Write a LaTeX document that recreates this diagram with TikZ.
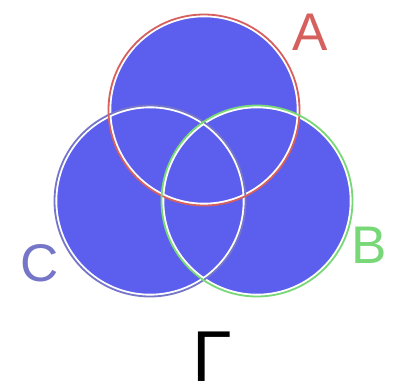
\documentclass[tikz,border=0pt]{standalone}
\usepackage{fontspec}
\setmainfont{Liberation Sans}
\definecolor{fillblue}{RGB}{92,94,238}
\definecolor{ared}{RGB}{214,96,94}
\definecolor{bgreen}{RGB}{120,216,120}
\definecolor{cpurple}{RGB}{118,118,200}
\begin{document}
\begin{tikzpicture}[x=1bp,y=-1bp,
  setfill/.style={fill=fillblue,draw=none},
  halo/.style={draw=white,line width=2.5bp},
  rim/.style={line width=1.8bp},
  lab/.style={font=\fontsize{53bp}{53bp}\selectfont,inner sep=0pt,anchor=base}]
\useasboundingbox (0,0) rectangle (397,389);
\coordinate (ca) at (204,110);
\coordinate (cb) at (257,201);
\coordinate (cc) at (150,201);
\fill[setfill] (ca) circle[radius=95bp];
\fill[setfill] (cb) circle[radius=95bp];
\fill[setfill] (cc) circle[radius=95bp];
\draw[halo] (cc) circle[radius=94bp];
\draw[halo] (ca) circle[radius=94bp];
\draw[halo] (cb) circle[radius=94bp];
\draw[rim,draw=cpurple] (cc) circle[radius=95.5bp];
\draw[rim,draw=ared] (ca) circle[radius=95.5bp];
\draw[rim,draw=bgreen] (cb) circle[radius=95.5bp];
\node[lab,text=ared] (la) at (310,50) {A};
\node[lab,text=bgreen] (lb) at (369,263) {B};
\node[lab,text=cpurple] (lc) at (40,281) {C};
\node[inner sep=0pt,anchor=base,text depth=0pt,font=\fontsize{72bp}{72bp}\selectfont] (gam) at (212,381) {Г};
\end{tikzpicture}
\end{document}
